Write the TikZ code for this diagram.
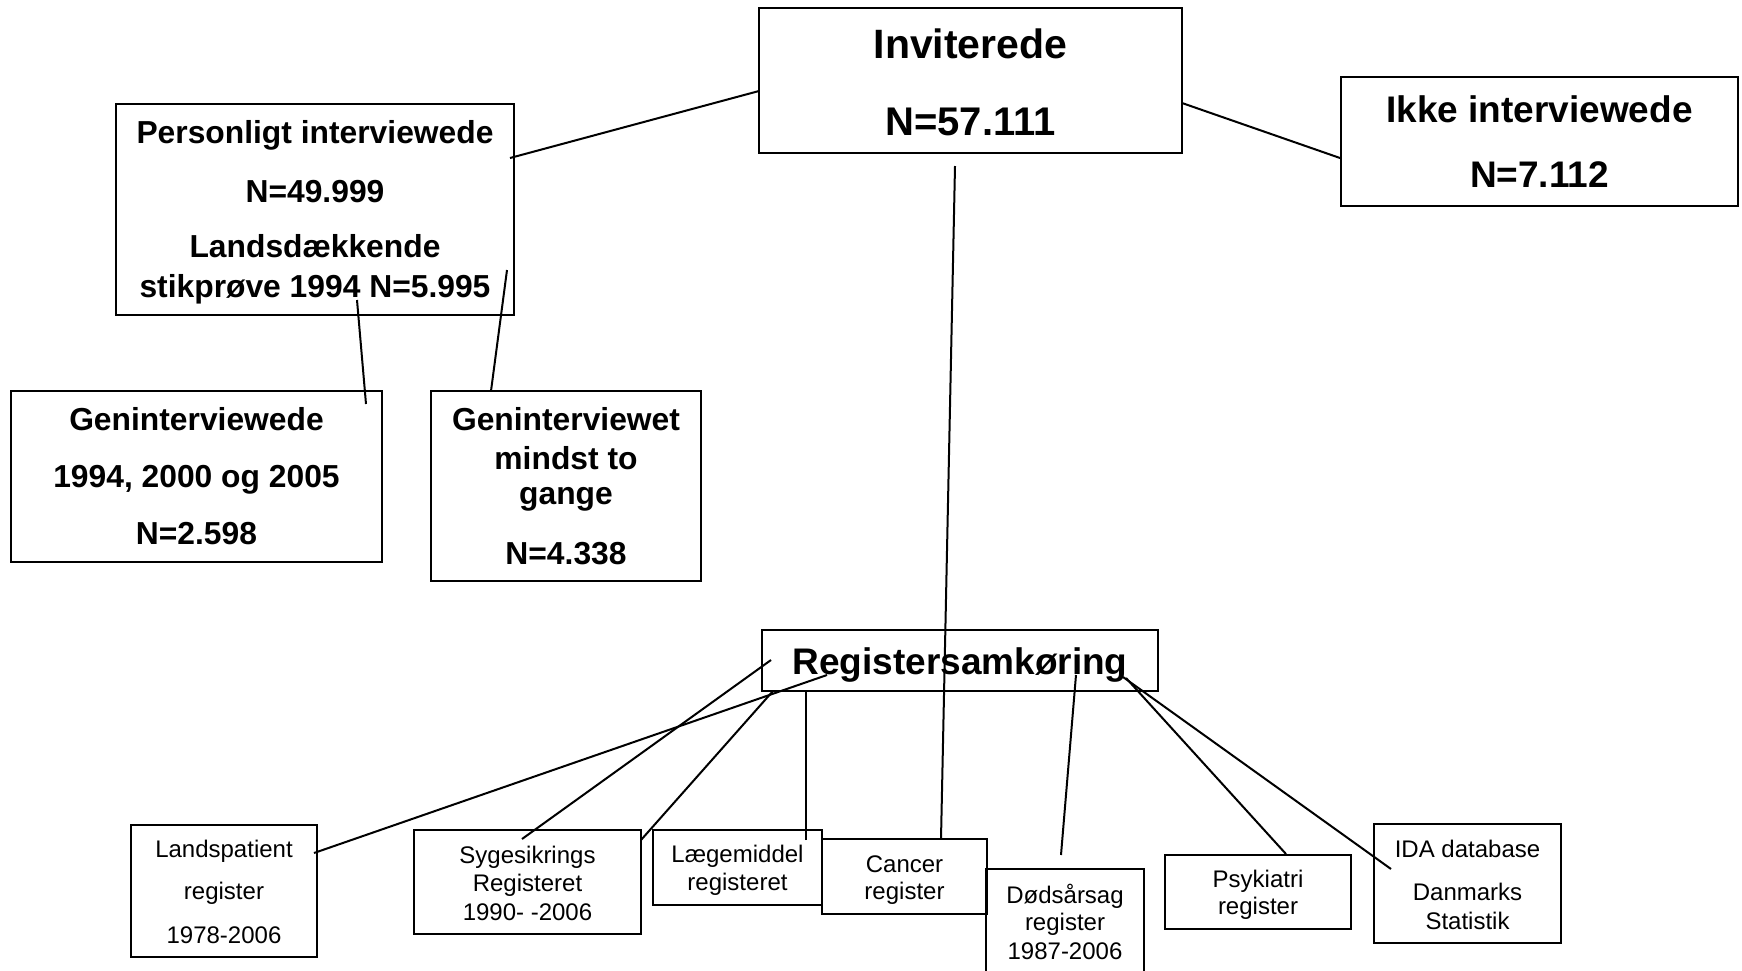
\documentclass[tikz,border=0pt]{standalone}
\usepackage{fontspec}
\setmainfont{Liberation Sans}
\newcommand\fInv{\bfseries\fontsize{41}{48}\selectfont}
\newcommand\fNum{\bfseries\fontsize{40}{48}\selectfont}
\newcommand\fIkke{\bfseries\fontsize{37}{44}\selectfont}
\newcommand\fMid{\bfseries\fontsize{31.8}{38}\selectfont}
\newcommand\fReg{\bfseries\fontsize{37}{44}\selectfont}
\newcommand\fSmall{\fontsize{24}{29}\selectfont}
\tikzset{
  box/.style={draw=black, line width=2.6pt, inner sep=0pt, outer sep=0pt, fill=none},
  conn/.style={draw=black, line width=2pt},
  thinconn/.style={draw=black, line width=1.6pt},
  txt/.style={anchor=base, inner sep=0pt, outer sep=0pt, text=black},
}
\begin{document}
\begin{tikzpicture}[x=1pt,y=-1pt]
\useasboundingbox (0,0) rectangle (1742,970);
\clip (0,0) rectangle (1742,970);
\fill[white] (0,0) rectangle (1742,970);

% boxes
\node[box, minimum width=423pt, minimum height=145pt] (inv)  at (970.5,80.5) {};
\node[box, minimum width=397pt, minimum height=129pt] (ikke) at (1539.5,141.5) {};
\node[box, minimum width=398pt, minimum height=211pt] (pers) at (315,209.5) {};
\node[box, minimum width=371pt, minimum height=171pt] (gen1) at (196.5,476.5) {};
\node[box, minimum width=270pt, minimum height=190pt] (gen2) at (566,486) {};
\node[box, minimum width=396pt, minimum height=61pt]  (reg)  at (960,660.5) {};
\node[box, minimum width=186pt, minimum height=132pt] (land) at (224,891) {};
\node[box, minimum width=227pt, minimum height=104pt] (syg)  at (527.5,882) {};
\node[box, minimum width=169pt, minimum height=75pt]  (laeg) at (737.5,867.5) {};
\node[box, minimum width=165pt, minimum height=75pt]  (canc) at (904.5,876.5) {};
\node[box, minimum width=158pt, minimum height=131pt] (dod)  at (1065,934.5) {};
\node[box, minimum width=186pt, minimum height=74pt]  (psyk) at (1258,892) {};
\node[box, minimum width=187pt, minimum height=119pt] (ida)  at (1467.5,883.5) {};

% texts
\node[txt, font=\fInv] (inv-a) at (970.5,58) {Inviterede};
\node[txt, font=\fNum] (inv-b) at (970.5,135) {N=57.111};
\node[txt, font=\fIkke] (ikke-a) at (1539.5,122) {Ikke interviewede};
\node[txt, font=\fIkke] (ikke-b) at (1539.5,187.5) {N=7.112};
\node[txt, font=\fMid] (pers-a) at (315,143.5) {Personligt interviewede};
\node[txt, font=\fMid] (pers-b) at (315,202) {N=49.999};
\node[txt, font=\fMid] (pers-c) at (315,257.5) {Landsdækkende};
\node[txt, font=\fMid] (pers-d) at (315,297) {stikprøve 1994 N=5.995};
\node[txt, font=\fMid] (gen1-a) at (196.5,430) {Geninterviewede};
\node[txt, font=\fMid] (gen1-b) at (196.5,487) {1994, 2000 og 2005};
\node[txt, font=\fMid] (gen1-c) at (196.5,544) {N=2.598};
\node[txt, font=\fMid] (gen2-a) at (566,430) {Geninterviewet};
\node[txt, font=\fMid] (gen2-b) at (566,469) {mindst to};
\node[txt, font=\fMid] (gen2-c) at (566,504) {gange};
\node[txt, font=\fMid] (gen2-d) at (566,564) {N=4.338};
\node[txt, font=\fReg] (reg-a) at (960,674) {Registersamkøring};
\node[txt, font=\fSmall] (land-a) at (224,857) {Landspatient};
\node[txt, font=\fSmall] (land-b) at (224,899) {register};
\node[txt, font=\fSmall] (land-c) at (224,943) {1978-2006};
\node[txt, font=\fSmall] (syg-a) at (527.5,863) {Sygesikrings};
\node[txt, font=\fSmall] (syg-b) at (527.5,891.5) {Registeret};
\node[txt, font=\fSmall] (syg-c) at (527.5,920) {1990- -2006};
\node[txt, font=\fSmall] (laeg-a) at (737.5,862.5) {Lægemiddel};
\node[txt, font=\fSmall] (laeg-b) at (737.5,890) {registeret};
\node[txt, font=\fSmall] (canc-a) at (904.5,872) {Cancer};
\node[txt, font=\fSmall] (canc-b) at (904.5,899) {register};
\node[txt, font=\fSmall] (dod-a) at (1065,903) {Dødsårsag};
\node[txt, font=\fSmall] (dod-b) at (1065,930) {register};
\node[txt, font=\fSmall] (dod-c) at (1065,959) {1987-2006};
\node[txt, font=\fSmall] (psyk-a) at (1258,887) {Psykiatri};
\node[txt, font=\fSmall] (psyk-b) at (1258,914) {register};
\node[txt, font=\fSmall] (ida-a) at (1467.5,857) {IDA database};
\node[txt, font=\fSmall] (ida-b) at (1467.5,900) {Danmarks};
\node[txt, font=\fSmall] (ida-c) at (1467.5,929) {Statistik};

% connectors
\draw[conn] ([shift={(-4,54)}]pers.north east) -- ([shift={(0,83)}]inv.north west);
\draw[conn] ([shift={(0,22.5)}]inv.east) -- ([shift={(-1,16.5)}]ikke.west);
\draw[conn] ([shift={(-15.5,13)}]inv.south) -- ([shift={(36.5,0)}]canc.north);
\draw[conn] ([shift={(241,-15)}]pers.south west) -- ([shift={(-16,13)}]gen1.north east);
\draw[conn] ([shift={(-7,-45)}]pers.south east) -- ([shift={(60,0)}]gen2.north west);
\draw[conn] ([shift={(-3,28)}]land.north east) -- ([shift={(65,-16)}]reg.south west);
\draw[conn] ([shift={(-5.5,9)}]syg.north) -- ([shift={(9,-0.5)}]reg.west);
\draw[conn] ([shift={(0,10)}]syg.north east) -- ([shift={(11,0)}]reg.south west);
\draw[thinconn] ([shift={(-16,10)}]laeg.north east) -- ([shift={(44,0)}]reg.south west);
\draw[conn] ([shift={(-4,-14)}]dod.north) -- ([shift={(116,-16)}]reg.south);
\draw[conn] ([shift={(28,-1)}]psyk.north) -- ([shift={(-32,-13)}]reg.south east);
\draw[conn] ([shift={(17,45)}]ida.north west) -- ([shift={(-35,-14)}]reg.south east);
\end{tikzpicture}
\end{document}
